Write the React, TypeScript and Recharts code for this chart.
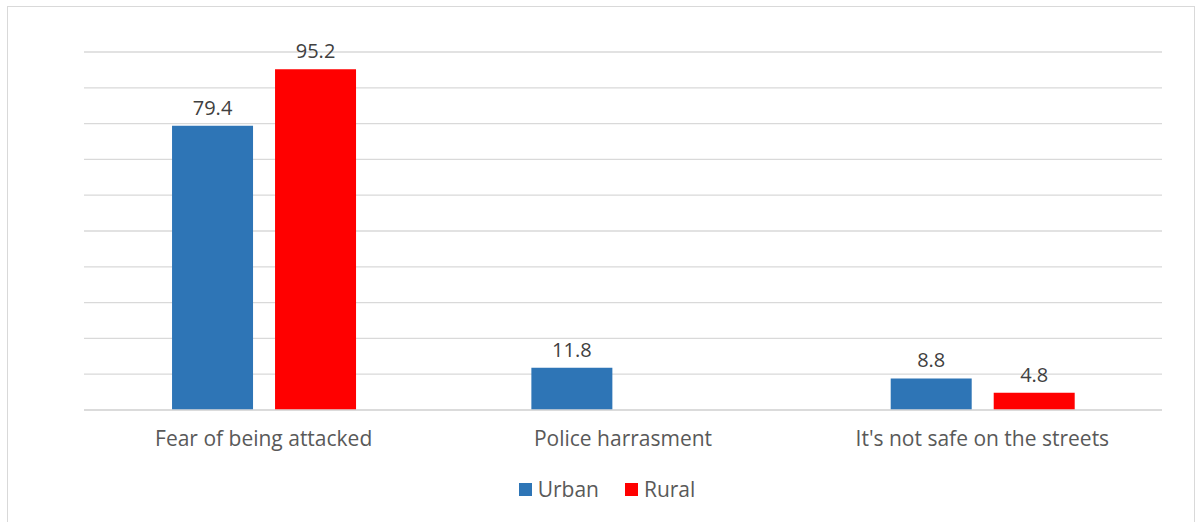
import { BarChart, Bar, XAxis, YAxis, CartesianGrid, Legend, LabelList } from 'recharts'

const categories = ['Fear of being attacked', 'Police harrasment', "It's not safe on the streets"]
const urban = [79.4, 11.8, 8.8]
const rural: (number | null)[] = [95.2, null, 4.8]
const yTicks = [0, 10, 20, 30, 40, 50, 60, 70, 80, 90, 100]
const seriesOrder = ['Urban', 'Rural']

const data = categories.map((name, i) => ({
  name,
  Urban: urban[i],
  Rural: rural[i],
}))

const FONT = '"Open Sans", "Noto Sans", sans-serif'

const renderLegend = (props: any) => {
  const items = [...(props.payload || [])].sort(
    (a: any, b: any) => seriesOrder.indexOf(a.value) - seriesOrder.indexOf(b.value)
  )
  return (
    <div
      style={{
        position: 'relative',
        left: -16,
        display: 'flex',
        justifyContent: 'center',
        alignItems: 'center',
        gap: 26,
        fontFamily: FONT,
        fontSize: 21,
        color: '#595959',
      }}
    >
      {items.map((it: any) => (
        <div key={it.value} style={{ display: 'flex', alignItems: 'center', gap: 6 }}>
          <span style={{ display: 'inline-block', width: 13, height: 13, background: it.color }} />
          <span>{it.value}</span>
        </div>
      ))}
    </div>
  )
}

export default function App() {
  return (
    <div style={{ position: 'absolute', left: 0, top: 0, width: 1197, height: 522, background: '#fff', overflow: 'hidden' }}>
      <div
        style={{
          position: 'absolute',
          left: 7,
          top: 6,
          width: 1188,
          height: 530,
          border: '1px solid #d9d9d9',
          boxSizing: 'border-box',
        }}
      />
      <BarChart
        width={1197}
        height={522}
        data={data}
        margin={{ top: 52, right: 35, left: 84, bottom: 17 }}
        barCategoryGap="24.5%"
        barGap={22}
        style={{ fontFamily: FONT }}
      >
        <CartesianGrid vertical={false} stroke="#d9d9d9" strokeWidth={1.3} />
        <YAxis hide domain={[0, 100]} ticks={yTicks} />
        <XAxis
          dataKey="name"
          axisLine={{ stroke: '#d9d9d9', strokeWidth: 1.3 }}
          tickLine={false}
          height={65}
          tick={{ fill: '#595959', fontSize: 21, fontFamily: FONT }}
          tickMargin={15}
        />
        <Legend verticalAlign="bottom" align="center" height={30} content={renderLegend} />
        <Bar dataKey="Urban" fill="#2e75b6" isAnimationActive={false}>
          <LabelList dataKey="Urban" position="top" offset={11} fill="#404040" fontSize={20} fontFamily={FONT} />
        </Bar>
        <Bar dataKey="Rural" fill="#ff0000" isAnimationActive={false}>
          <LabelList dataKey="Rural" position="top" offset={11} fill="#404040" fontSize={20} fontFamily={FONT} />
        </Bar>
      </BarChart>
    </div>
  )
}
